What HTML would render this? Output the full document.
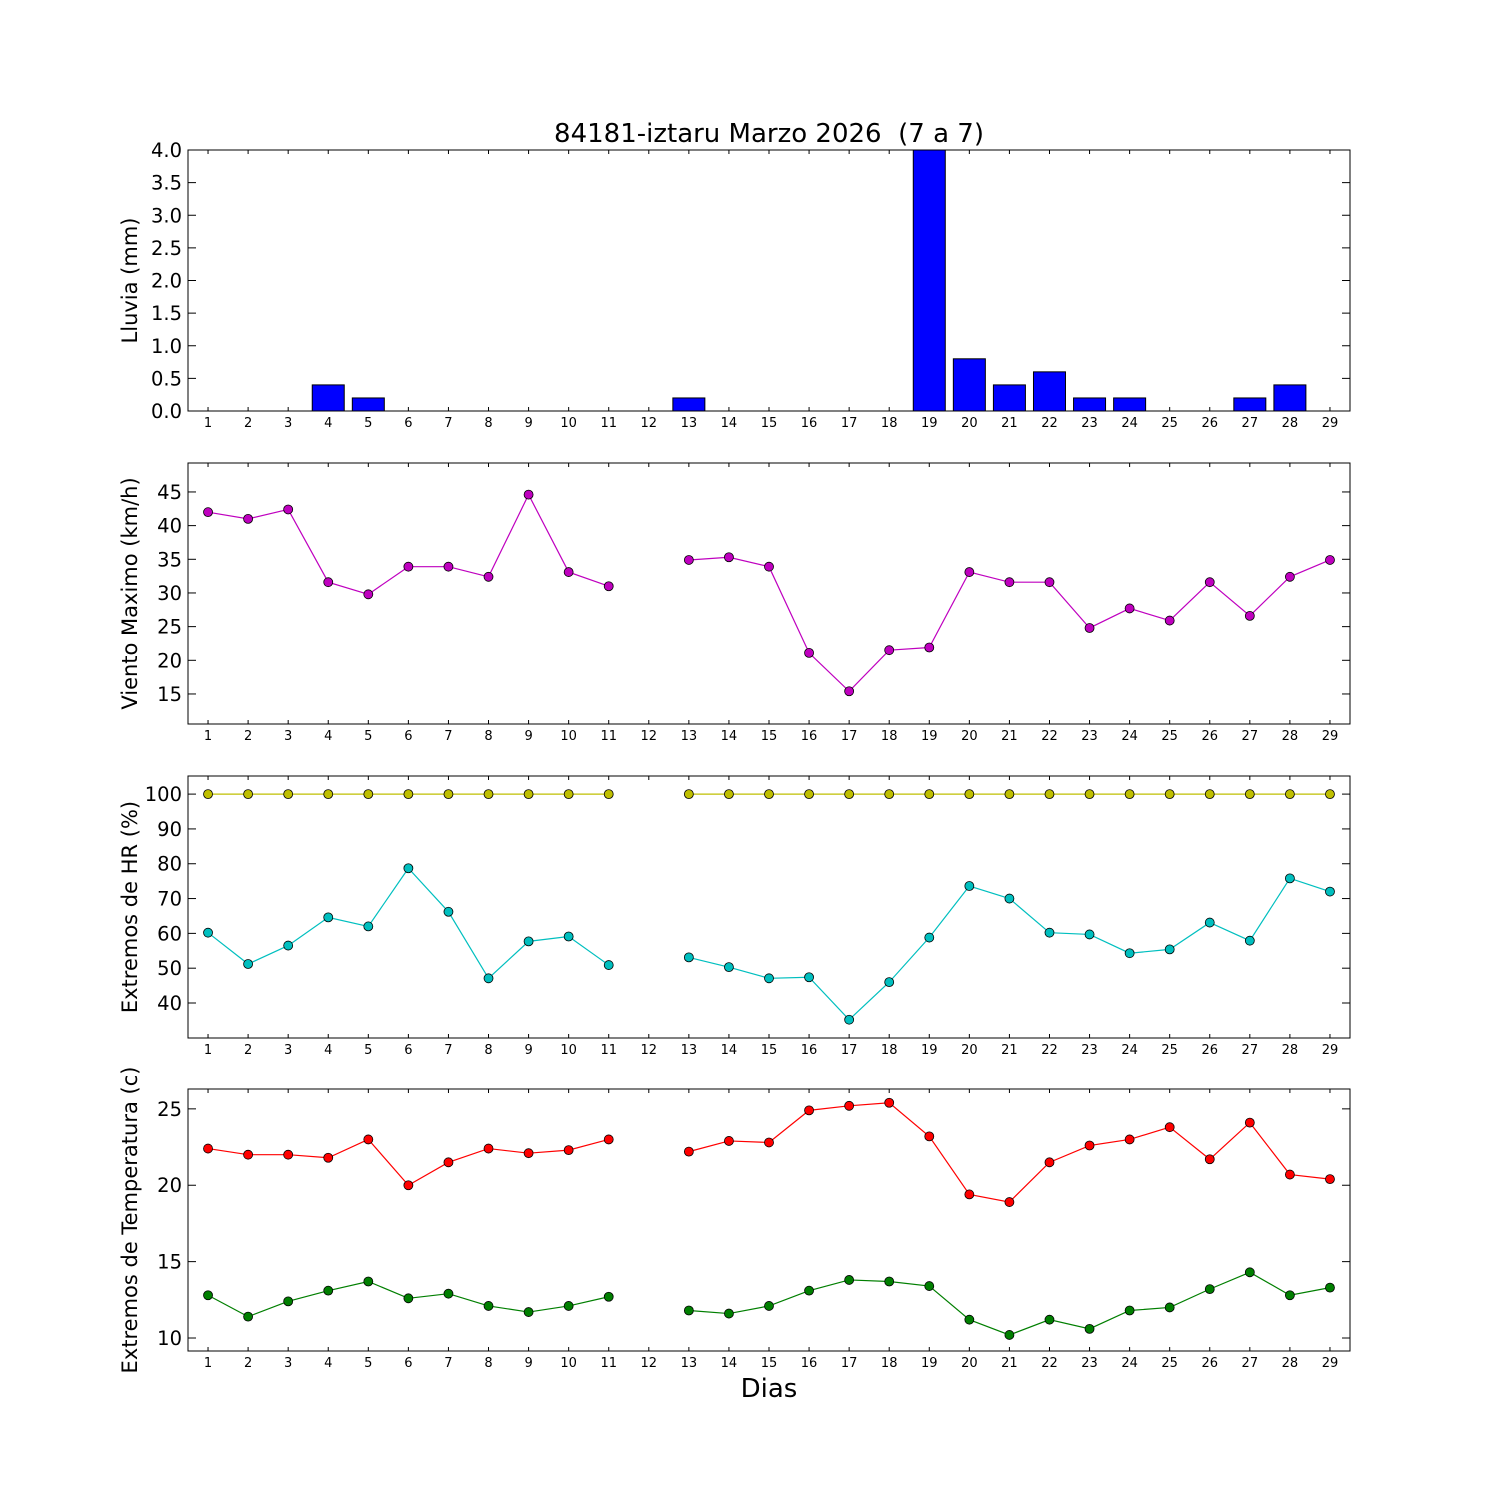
<!DOCTYPE html>
<html><head><meta charset="utf-8"><style>body{margin:0;background:#fff}svg{display:block;font-family:"DejaVu Sans","Liberation Sans",sans-serif}</style></head>
<body>
<svg id="c" width="1500" height="1500"></svg>
<script>
const days=[1,2,3,4,5,6,7,8,9,10,11,12,13,14,15,16,17,18,19,20,21,22,23,24,25,26,27,28,29];
const rain=[0,0,0,0.4,0.2,0,0,0,0,0,0,0,0.2,0,0,0,0,0,4.0,0.8,0.4,0.6,0.2,0.2,0,0,0.2,0.4,0];
const wind=[42,41,42.4,31.6,29.8,33.9,33.9,32.4,44.6,33.1,31,null,34.9,35.3,33.9,21.1,15.4,21.5,21.9,33.1,31.6,31.6,24.8,27.7,25.9,31.6,26.6,32.4,34.9];
const hrMax=[100,100,100,100,100,100,100,100,100,100,100,null,100,100,100,100,100,100,100,100,100,100,100,100,100,100,100,100,100];
const hrMin=[60.2,51.2,56.5,64.6,62,78.7,66.2,47.1,57.7,59.1,50.9,null,53.1,50.3,47.1,47.4,35.2,46,58.8,73.6,70,60.2,59.7,54.3,55.4,63.1,57.9,75.8,72];
const tMax=[22.4,22,22,21.8,23,20,21.5,22.4,22.1,22.3,23,null,22.2,22.9,22.8,24.9,25.2,25.4,23.2,19.4,18.9,21.5,22.6,23,23.8,21.7,24.1,20.7,20.4];
const tMin=[12.8,11.4,12.4,13.1,13.7,12.6,12.9,12.1,11.7,12.1,12.7,null,11.8,11.6,12.1,13.1,13.8,13.7,13.4,11.2,10.2,11.2,10.6,11.8,12,13.2,14.3,12.8,13.3];
const rainTicks=[0,0.5,1,1.5,2,2.5,3,3.5,4];
const windTicks=[15,20,25,30,35,40,45];
const hrTicks=[40,50,60,70,80,90,100];
const tTicks=[10,15,20,25];
const NS="http://www.w3.org/2000/svg",svg=document.getElementById('c');
function el(t,a,p){const e=document.createElementNS(NS,t);for(const k in a)e.setAttribute(k,a[k]);(p||svg).appendChild(e);return e;}
const L=188,R=1350;
const X=d=>L+(d-0.5)*(R-L)/29;
function panel(name,top,bot,y0,y1,ticks,label,fmt){
  const g=el('g',{});
  
  
  const Y=v=>bot-(v-y0)/(y1-y0)*(bot-top);
  el('rect',{x:L,y:top,width:R-L,height:bot-top,fill:'none',stroke:'#000','stroke-width':1},g);
  days.forEach(d=>{const x=X(d);el('line',{x1:x,x2:x,y1:bot,y2:bot-4,stroke:'#000'},g);el('line',{x1:x,x2:x,y1:top,y2:top+4,stroke:'#000'},g);
    const t=el('text',{x:x,y:bot+16,'font-size':13,'text-anchor':'middle'},g);t.textContent=d;
    
    });
  ticks.forEach(v=>{const y=Y(v);el('line',{x1:L,x2:L+8,y1:y,y2:y,stroke:'#000'},g);el('line',{x1:R,x2:R-8,y1:y,y2:y,stroke:'#000'},g);
    const t=el('text',{x:L-6,y:y+7,'font-size':19.5,'text-anchor':'end'},g);t.textContent=fmt(v);
    
    });
  const yl=el('text',{x:0,y:0,'font-size':21,'text-anchor':'middle',transform:`translate(${L-51},${(top+bot)/2}) rotate(-90)`},g);yl.textContent=label;
  
  
  return {g,Y};
}
function series(p,vals,color,name){
  let segs=[],cur=[];
  vals.forEach((v,i)=>{if(v==null){if(cur.length)segs.push(cur);cur=[];}else cur.push([X(days[i]),p.Y(v)]);});
  if(cur.length)segs.push(cur);
  segs.forEach(s=>{const pl=el('polyline',{points:s.map(q=>q.join(',')).join(' '),fill:'none',stroke:color,'stroke-width':1.2},p.g);
    
    
    s.forEach(q=>{const c=el('circle',{cx:q[0],cy:q[1],r:4.5,fill:color,stroke:'#000','stroke-width':0.8},p.g);
      
      });});
}
const t=el('text',{x:769,y:142,'font-size':26,'text-anchor':'middle'});t.textContent='84181-iztaru Marzo 2026 \u00a0(7 a 7)';


const p1=panel('rain-panel',150,411,0,4,rainTicks,'Lluvia (mm)',v=>v.toFixed(1));
rain.forEach((v,i)=>{const x=X(days[i]);const b=el('rect',{x:x-16,y:p1.Y(v),width:32,height:p1.Y(0)-p1.Y(v),fill:'#0000ff',stroke:'#000','stroke-width':1},p1.g);
  
  });
const p2=panel('wind-panel',463,724,10.54,49.3,windTicks,'Viento Maximo (km/h)',v=>v);
series(p2,wind,'#bf00bf','wind');
const p3=panel('humidity-panel',776,1038,29.95,105.2,hrTicks,'Extremos de HR (%)',v=>v);
series(p3,hrMax,'#bfbf00','hr-max');
series(p3,hrMin,'#00bfbf','hr-min');
const p4=panel('temperature-panel',1089,1351,9.15,26.3,tTicks,'Extremos de Temperatura (c)',v=>v);
series(p4,tMax,'#ff0000','temp-max');
series(p4,tMin,'#007f00','temp-min');
const xl=el('text',{x:769,y:1397,'font-size':26,'text-anchor':'middle'});xl.textContent='Dias';


</script>
</body></html>
